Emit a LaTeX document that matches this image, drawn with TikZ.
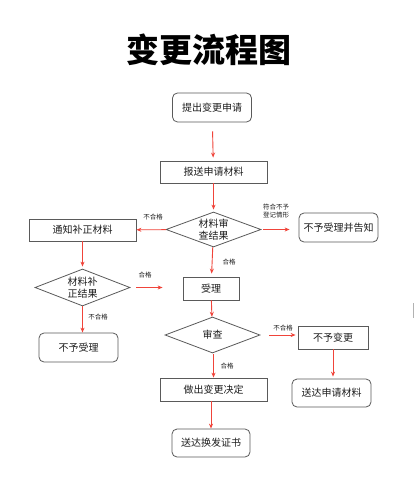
\documentclass[tikz,border=0pt]{standalone}
\usepackage{fontspec}
\setmainfont{Noto Sans CJK SC}
\usetikzlibrary{arrows.meta, positioning, shapes.geometric}
\definecolor{flowred}{RGB}{240,68,58}
\definecolor{boxgray}{RGB}{90,90,90}
\definecolor{textdark}{RGB}{30,30,30}
\tikzset{
  stepbox/.style={draw=boxgray, line width=0.8pt, rectangle, inner sep=0pt, font=\fontsize{10}{12}\selectfont, text=textdark},
  endbox/.style={stepbox, rounded corners=5pt},
  checkbox/.style={draw=boxgray, line width=0.8pt, diamond, shape aspect=2.6, inner sep=0pt, align=center, font=\fontsize{10}{12}\selectfont, text=textdark},
  flow/.style={->, draw=flowred, line width=0.9pt},
  lbl/.style={font=\fontsize{6.5}{7.5}\selectfont, text=textdark, align=left, inner sep=0pt}
}

\begin{document}
\begin{tikzpicture}[x=1pt, y=-1pt, >={Stealth[length=5pt, width=4pt]}]
                \fill[white] (0,0) rectangle (414,500);
                \useasboundingbox (0,0) rectangle (414,500);

                % Title
                \node (title) at (209,50) {\fontsize{33}{36}\selectfont\bfseries 变更流程图};

                % Main column
                \node[endbox, minimum width=79pt, minimum height=29pt] (apply) at (212,107.5) {提出变更申请};
                \node[stepbox, minimum width=107pt, minimum height=22pt] (submit) at (213.5,172) {报送申请材料};
                \node[checkbox, minimum width=95pt, minimum height=35pt] (check) at (213.5,229.5) {材料审\\查结果};
                \node[stepbox, minimum width=56pt, minimum height=23pt] (accept) at (211,288.5) {受理};
                \node[checkbox, minimum width=95pt, minimum height=36pt] (review) at (212.5,335) {审查};
                \node[stepbox, minimum width=107pt, minimum height=23pt] (decide) at (213.5,389.5) {做出变更决定};
                \node[endbox, minimum width=78pt, minimum height=28pt] (issue) at (211,443) {送达换发证书};

                % Left column
                \node[stepbox, minimum width=107pt, minimum height=22pt] (notify) at (82.5,230) {通知补正材料};
                \node[checkbox, minimum width=95pt, minimum height=37pt] (recheck) at (82.5,287.5) {材料补\\正结果};
                \node[endbox, minimum width=79pt, minimum height=29pt] (refuse) at (78.5,347.5) {不予受理};

                % Right column
                \node[endbox, minimum width=79pt, minimum height=29pt] (inform) at (338.5,227.5) {不予受理并告知};
                \node[stepbox, minimum width=70pt, minimum height=23pt] (nochange) at (333,337.5) {不予变更};
                \node[endbox, minimum width=79pt, minimum height=28pt] (giveback) at (331.5,393) {送达申请材料};

                % Arrows
                \draw[flow, shorten <=9pt, shorten >=3pt] (apply) -- (submit);
                \draw[flow, shorten >=2pt] (submit) -- (check);
                \draw[flow] (check) -- (notify);
                \draw[flow, shorten <=2pt, shorten >=9pt] (check.east) -- (inform.west |- check.east);
                \draw[flow, shorten >=3pt] (check) -- (accept);
                \draw[flow, shorten >=2pt] (notify) -- (recheck);
                \draw[flow, shorten <=6pt, shorten >=20pt] (recheck.east) -- (accept.west |- recheck.east);
                \draw[flow] (recheck) -- (refuse.north -| recheck.south);
                \draw[flow] (accept) -- (review);
                \draw[flow, shorten <=9pt, shorten >=2pt] (review.east) -- (nochange.west |- review.east);
                \draw[flow, shorten >=2pt] (nochange) -- (giveback.north -| nochange.south);
                \draw[flow, shorten <=1pt] (review.south -| decide.north) -- (decide);
                \draw[flow] (decide.south -| issue.north) -- (issue);

                % Labels
                \node[lbl] (l1) at (153,217) {不合格};
                \node[lbl] (l2) at (276,211) {符合不予\\登记情形};
                \node[lbl] (l3) at (229,262) {合格};
                \node[lbl] (l4) at (145,275) {合格};
                \node[lbl] (l5) at (98,317) {不合格};
                \node[lbl] (l6) at (283,328) {不合格};
                \node[lbl] (l7) at (227,366) {合格};

                % Edge mark
                \draw[gray!60, line width=0.8pt] (413,303) -- (413,318);
\end{tikzpicture}
\end{document}
